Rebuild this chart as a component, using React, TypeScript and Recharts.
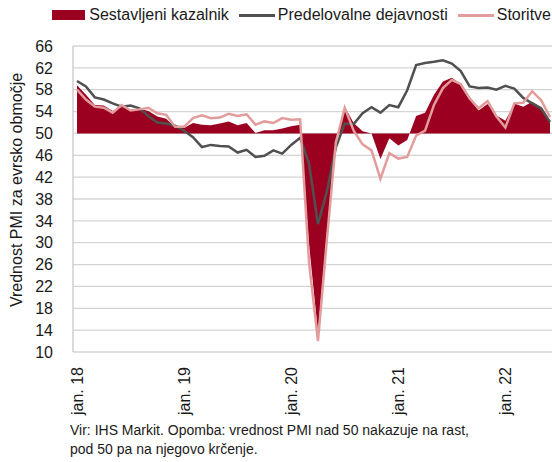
import React from "react";
import {
  ComposedChart,
  Area,
  Line,
  XAxis,
  YAxis,
  CartesianGrid,
  Label,
} from "recharts";

// mesečne oznake, jan. 2018 - jun. 2022
const monthNames = ["jan.", "feb.", "mar.", "apr.", "maj", "jun.", "jul.", "avg.", "sep.", "okt.", "nov.", "dec."];
const years = ["18", "19", "20", "21", "22"];
const categories = years.flatMap((y) => monthNames.map((m) => `${m} ${y}`)).slice(0, 54);

const composite = [
  58.8, 57.1, 55.2, 55.1, 54.1, 54.9, 54.3, 54.5, 54.1, 53.1, 52.7, 51.1,
  51.0, 51.9, 51.6, 51.5, 51.8, 52.2, 51.5, 51.9, 50.1, 50.6, 50.6, 50.9,
  51.3, 51.6, 29.7, 13.6, 31.9, 48.5, 54.9, 51.9, 50.4, 50.0, 45.3, 49.1,
  47.8, 48.8, 53.2, 53.8, 57.1, 59.5, 60.2, 59.0, 56.2, 54.2, 55.4, 53.3,
  52.3, 55.5, 54.9, 55.8, 54.8, 52.0,
];
const manufacturing = [
  59.6, 58.6, 56.6, 56.2, 55.5, 54.9, 55.1, 54.6, 53.2, 52.0, 51.8, 51.4,
  50.5, 49.3, 47.5, 47.9, 47.7, 47.6, 46.5, 47.0, 45.7, 45.9, 46.9, 46.3,
  47.9, 49.2, 44.5, 33.4, 39.4, 47.4, 51.8, 51.7, 53.7, 54.8, 53.8, 55.2,
  54.8, 57.9, 62.5, 62.9, 63.1, 63.4, 62.8, 61.4, 58.6, 58.3, 58.4, 58.0,
  58.7, 58.2, 56.5, 55.5, 54.6, 52.1,
];
const services = [
  58.0, 56.2, 54.9, 54.7, 53.8, 55.2, 54.2, 54.4, 54.7, 53.7, 53.4, 51.2,
  51.2, 52.8, 53.3, 52.8, 52.9, 53.6, 53.2, 53.5, 51.6, 52.2, 51.9, 52.8,
  52.5, 52.6, 26.4, 12.0, 30.5, 48.3, 54.7, 50.5, 48.0, 46.9, 41.7, 46.4,
  45.4, 45.7, 49.6, 50.5, 55.2, 58.3, 59.8, 59.0, 56.4, 54.6, 55.9, 53.1,
  51.1, 55.5, 55.6, 57.7, 56.1, 53.0,
];
const yTicks = [10, 14, 18, 22, 26, 30, 34, 38, 42, 46, 50, 54, 58, 62, 66];

const data = categories.map((month, i) => ({
  month,
  composite: composite[i],
  manufacturing: manufacturing[i],
  services: services[i],
}));

const RED = "#9b0020";
const GRAY = "#505050";
const PINK = "#e39c9c";
const FONT = "'Liberation Sans', Arial, sans-serif";

const legendItems = [
  { name: "Sestavljeni kazalnik", color: RED, kind: "area" },
  { name: "Predelovalne dejavnosti", color: GRAY, kind: "line" },
  { name: "Storitve", color: PINK, kind: "line" },
];

const XTick = (props: any) => {
  const { x, y, payload } = props;
  const ty = y + 7;
  return (
    <text
      x={x}
      y={ty}
      dy="0.35em"
      transform={`rotate(-90, ${x}, ${ty})`}
      textAnchor="end"
      fontSize={16}
      fill="#1a1a1a"
      fontFamily={FONT}
    >
      {payload.value}
    </text>
  );
};

export default function App() {
  return (
    <div
      style={{
        position: "absolute",
        left: 0,
        top: 0,
        width: 552,
        height: 462,
        background: "#fff",
        fontFamily: FONT,
        color: "#1a1a1a",
      }}
    >
      <div
        style={{
          position: "absolute",
          top: 6,
          right: 1,
          display: "flex",
          alignItems: "center",
          fontSize: 16,
          whiteSpace: "nowrap",
        }}
      >
        {legendItems.map((it, i) => (
          <div key={it.name} style={{ display: "flex", alignItems: "center", marginLeft: i === 0 ? 0 : 10 }}>
            {it.kind === "area" ? (
              <span style={{ width: 33, height: 10, background: it.color, marginRight: 4 }} />
            ) : (
              <span style={{ width: 36, height: 3, background: it.color, marginRight: 3 }} />
            )}
            <span>{it.name}</span>
          </div>
        ))}
      </div>

      <div style={{ position: "absolute", left: 0, top: 0 }}>
        <ComposedChart
          width={552}
          height={432}
          data={data}
          margin={{ top: 46, right: 0, left: 0, bottom: 0 }}
        >
          <CartesianGrid vertical={false} stroke="#d4d4d4" strokeWidth={1.3} />
          <XAxis
            dataKey="month"
            interval={11}
            tick={<XTick />}
            tickLine={false}
            axisLine={false}
            height={80}
            padding={{ left: 4, right: 2 }}
          />
          <YAxis
            domain={[10, 66]}
            ticks={yTicks}
            interval={0}
            width={73}
            tickLine={false}
            axisLine={{ stroke: "#c8c8c8", strokeWidth: 1.3 }}
            tick={{ fontSize: 16, fill: "#1a1a1a", fontFamily: FONT }}
            tickMargin={14}
          >
            <Label
              content={() => (
                <text
                  x={16}
                  y={190}
                  transform="rotate(-90, 16, 190)"
                  textAnchor="middle"
                  dy="0.35em"
                  fontSize={16}
                  fill="#1a1a1a"
                  fontFamily={FONT}
                >
                  Vrednost PMI za evrsko območje
                </text>
              )}
            />
          </YAxis>
          <Area
            dataKey="composite"
            baseValue={50}
            fill={RED}
            fillOpacity={1}
            stroke="none"
            isAnimationActive={false}
          />
          <Line
            dataKey="manufacturing"
            stroke={GRAY}
            strokeWidth={2.5}
            dot={false}
            isAnimationActive={false}
          />
          <Line
            dataKey="services"
            stroke={PINK}
            strokeWidth={2.5}
            dot={false}
            isAnimationActive={false}
          />
        </ComposedChart>
      </div>

      <div
        style={{
          position: "absolute",
          left: 70,
          top: 421,
          fontSize: 14,
          lineHeight: "19px",
        }}
      >
        Vir: IHS Markit. Opomba: vrednost PMI nad 50 nakazuje na rast,
        <br />
        pod 50 pa na njegovo krčenje.
      </div>
    </div>
  );
}
